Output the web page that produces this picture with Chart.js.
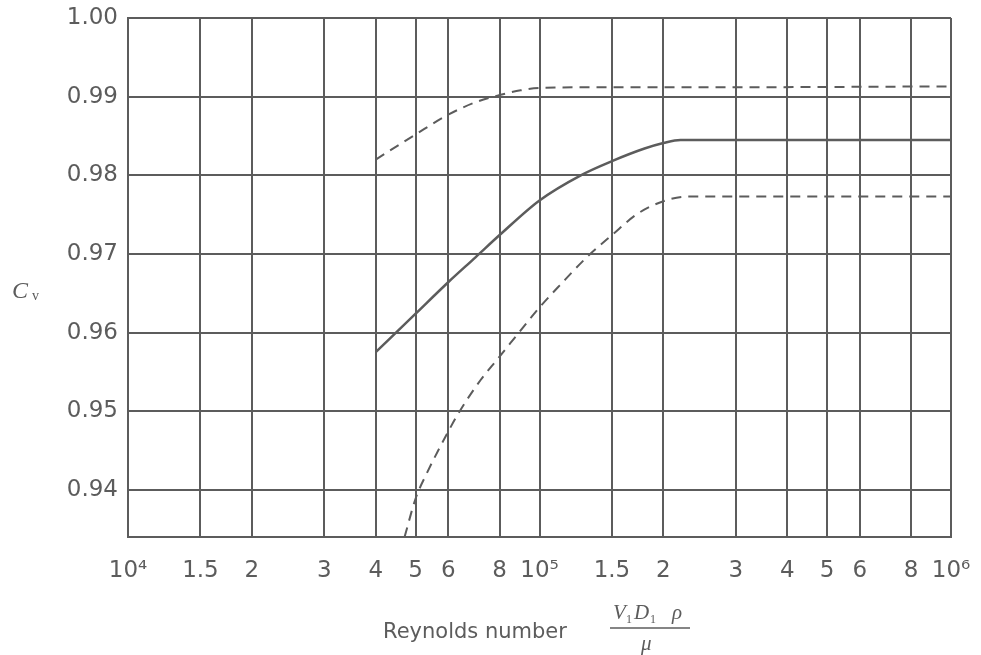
<!DOCTYPE html>
<html>
<head>
<meta charset="utf-8">
<script src="https://cdn.jsdelivr.net/npm/chart.js@4.4.1/dist/chart.umd.min.js"></script>
<style>
  html, body { margin: 0; padding: 0; background: #fff; }
  #wrap { width: 981px; height: 655px; }
</style>
</head>
<body>
<div id="wrap"><canvas id="cv"></canvas></div>
<script>
// Reynolds number grid / tick positions
const reTicks = [1e4, 1.5e4, 2e4, 3e4, 4e4, 5e4, 6e4, 8e4, 1e5, 1.5e5, 2e5, 3e5, 4e5, 5e5, 6e5, 8e5, 1e6];
const reTickLabels = ['10⁴', '1.5', '2', '3', '4', '5', '6', '8', '10⁵', '1.5', '2', '3', '4', '5', '6', '8', '10⁶'];
const cvTicks = [0.94, 0.95, 0.96, 0.97, 0.98, 0.99, 1.00];
const cvTickLabels = ['0.94', '0.95', '0.96', '0.97', '0.98', '0.99', '1.00'];

// middle (solid) curve
const solidRe = [40000, 50000, 60000, 70000, 80000, 100000, 126000, 150000, 180000, 200000, 220000, 300000, 500000, 1000000];
const solidCv = [0.9575, 0.9624, 0.9664, 0.9696, 0.9724, 0.9768, 0.9800, 0.9818, 0.9834, 0.9841, 0.9845, 0.9845, 0.9845, 0.9845];

// upper dashed curve
const upperRe = [40000, 50000, 60000, 70000, 80000, 90000, 100000, 150000, 300000, 1000000];
const upperCv = [0.9820, 0.9852, 0.9877, 0.9893, 0.9902, 0.9908, 0.9911, 0.9912, 0.9912, 0.9913];

// lower dashed curve
const lowerRe = [47000, 50000, 53000, 60000, 64000, 72000, 79000, 95000, 100000, 112000, 131000, 150000, 173000, 200000, 230000, 300000, 1000000];
const lowerCv = [0.9340, 0.9389, 0.9419, 0.9474, 0.9500, 0.9540, 0.9566, 0.9618, 0.9632, 0.9660, 0.9697, 0.9724, 0.9751, 0.9767, 0.9773, 0.9773, 0.9773];

const ink = '#5c5c5c';
const toPts = (xs, ys) => xs.map((x, i) => ({x: x, y: ys[i]}));

const axisTitles = {
  id: 'axisTitles',
  afterDraw(chart) {
    const ctx = chart.ctx;
    ctx.save();
    ctx.fillStyle = ink;
    ctx.strokeStyle = ink;
    ctx.textBaseline = 'alphabetic';
    // C_v
    ctx.font = 'italic 24px "Liberation Serif"';
    ctx.fillText('C', 12, 298);
    ctx.font = '14px "Liberation Serif"';
    ctx.fillText('v', 32, 300);
    // Reynolds number V1 D1 rho / mu
    ctx.font = '21px "DejaVu Sans"';
    ctx.fillText('Reynolds number', 383, 638);
    ctx.font = 'italic 21px "Liberation Serif"';
    ctx.fillText('V', 613, 619);
    ctx.fillText('D', 634, 619);
    ctx.fillText('ρ', 672, 619);
    ctx.fillText('μ', 641, 650);
    ctx.font = '12px "Liberation Serif"';
    ctx.fillText('1', 626, 623);
    ctx.fillText('1', 650, 623);
    ctx.lineWidth = 1.5;
    ctx.beginPath();
    ctx.moveTo(610, 628);
    ctx.lineTo(690, 628);
    ctx.stroke();
    ctx.restore();
  }
};

new Chart(document.getElementById('cv'), {
  type: 'line',
  data: {
    datasets: [
      {
        data: toPts(upperRe, upperCv),
        borderColor: ink,
        borderWidth: 2,
        borderDash: [10, 7],
        pointRadius: 0,
        cubicInterpolationMode: 'monotone',
      },
      {
        data: toPts(solidRe, solidCv),
        borderColor: ink,
        borderWidth: 2.5,
        pointRadius: 0,
        cubicInterpolationMode: 'monotone',
      },
      {
        data: toPts(lowerRe, lowerCv),
        borderColor: ink,
        borderWidth: 2,
        borderDash: [10, 7],
        pointRadius: 0,
        cubicInterpolationMode: 'monotone',
      },
    ],
  },
  options: {
    responsive: true,
    maintainAspectRatio: false,
    animation: false,
    layout: {padding: {top: 18, right: 30, left: 0, bottom: 0}},
    plugins: {legend: {display: false}, tooltip: {enabled: false}},
    scales: {
      x: {
        type: 'logarithmic',
        min: 1e4,
        max: 1e6,
        afterBuildTicks: (scale) => {
          scale.ticks = reTicks.map((v) => ({value: v}));
        },
        afterFit: (scale) => {
          scale.height = 118;
          scale.paddingLeft = 0;
          scale.paddingRight = 0;
        },
        ticks: {
          autoSkip: false,
          maxRotation: 0,
          padding: 20,
          color: ink,
          font: {family: 'DejaVu Sans', size: 23},
          callback: (v, i) => reTickLabels[i],
        },
        grid: {color: ink, lineWidth: 2, drawTicks: false},
        border: {color: ink, width: 2},
      },
      y: {
        min: 0.934,
        max: 1.0,
        afterBuildTicks: (scale) => {
          scale.ticks = cvTicks.map((v) => ({value: v}));
        },
        afterFit: (scale) => {
          scale.width = 128;
          scale.paddingTop = 0;
          scale.paddingBottom = 0;
        },
        ticks: {
          padding: 10,
          color: ink,
          font: {family: 'DejaVu Sans', size: 23},
          callback: (v, i) => cvTickLabels[i],
        },
        grid: {color: ink, lineWidth: 2, drawTicks: false},
        border: {color: ink, width: 2},
      },
    },
  },
  plugins: [axisTitles],
});
</script>
</body>
</html>
